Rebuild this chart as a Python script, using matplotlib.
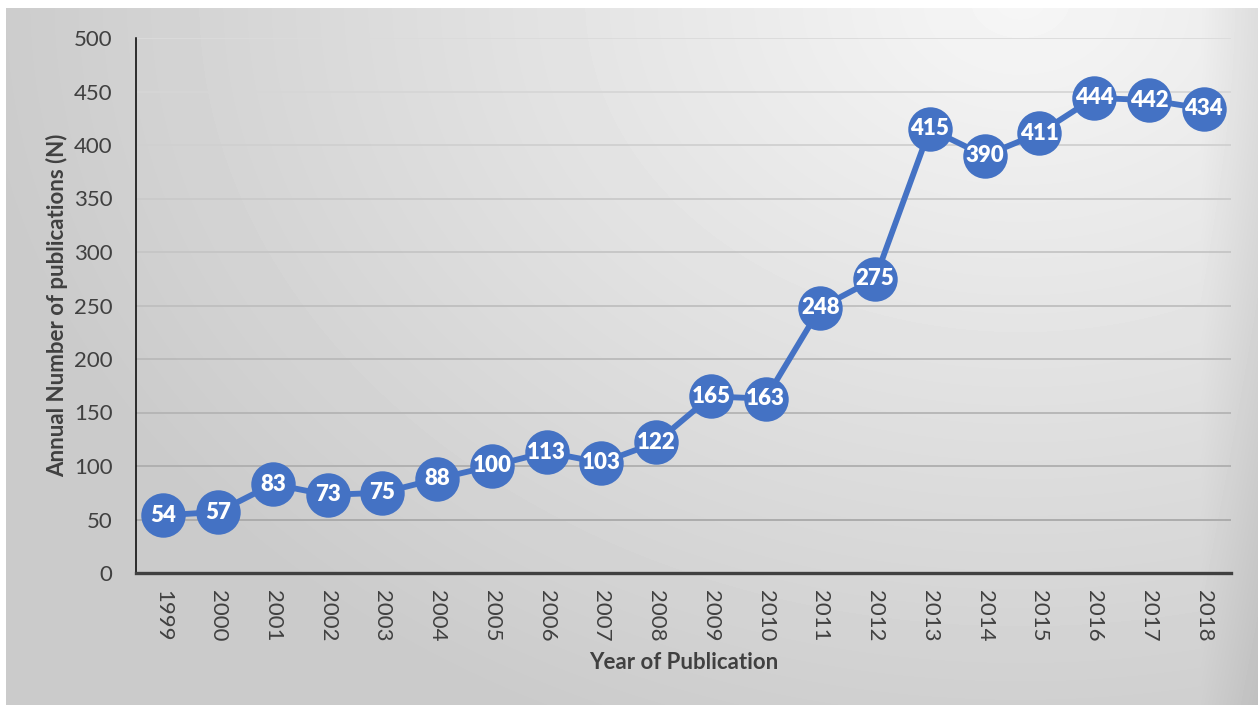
import numpy as np
import matplotlib
matplotlib.use("Agg")
import matplotlib.pyplot as plt

years = [str(y) for y in range(1999, 2019)]
publications = [54, 57, 83, 73, 75, 88, 100, 113, 103, 122,
                165, 163, 248, 275, 415, 390, 411, 444, 442, 434]
y_ticks = list(range(0, 501, 50))

W, H = 1258, 705
plt.rcParams['font.family'] = ['Lato', 'DejaVu Sans']

fig = plt.figure(figsize=(W / 100, H / 100), dpi=100)

# background: soft radial gradient, light at top right
bg_ax = fig.add_axes([0, 0, 1, 1])
bg_ax.set_axis_off()
xx, yy = np.meshgrid(np.arange(W), np.arange(H))
t = np.sqrt(((xx - 1020) / 1050.0) ** 2 + ((yy - 0) / 800.0) ** 2)
t = np.clip(t, 0, 1)
shade = 0.965 - 0.17 * t
edge = np.clip((xx - 1200) / 58.0, 0, 1)
shade = shade - 0.06 * edge
shade[:8, :] = 1.0
shade[:, :6] = 1.0
bg_ax.imshow(shade, cmap='gray', vmin=0, vmax=1, aspect='auto',
             extent=[0, 1, 0, 1], origin='upper', interpolation='bilinear')
bg_ax.set_xlim(0, 1)
bg_ax.set_ylim(0, 1)

ax = fig.add_axes([136 / W, 132 / H, (1231 - 136) / W, (573 - 38) / H])
ax.patch.set_alpha(0)

x = np.arange(len(years))
ax.plot(x, publications, color='#4472C4', lw=4.2, marker='o',
        markersize=32, markeredgewidth=0, zorder=3)
for xi, v in zip(x, publications):
    ax.text(xi, v, str(v), ha='center', va='center', color='white',
            fontsize=16, fontweight='heavy', zorder=4)

ax.set_xlim(-0.5, len(years) - 0.5)
ax.set_ylim(0, 500)
ax.set_xticks(x)
ax.set_xticklabels(years, rotation=270)
ax.set_yticks(y_ticks)
ax.tick_params(axis='both', length=0, labelsize=16, labelcolor='#404040')
ax.tick_params(axis='y', pad=17)
ax.tick_params(axis='x', pad=12)

ax.yaxis.grid(True, lw=1.3)
ax.set_axisbelow(True)
grid_lines = ax.get_ygridlines()
for i, gl in enumerate(grid_lines):
    frac = i / (len(grid_lines) - 1)
    c = 0.64 + 0.22 * frac
    gl.set_color((c, c, c))

for side in ['top', 'right']:
    ax.spines[side].set_visible(False)
ax.spines['bottom'].set_color('#404040')
ax.spines['bottom'].set_linewidth(2.4)
ax.spines['left'].set_color('#000000')
ax.spines['left'].set_linewidth(1.1)

ax.set_xlabel('Year of Publication', fontsize=16, fontweight='bold',
              color='#404040', labelpad=8)
ax.set_ylabel('Annual Number of publications (N)', fontsize=16,
              fontweight='bold', color='#404040', labelpad=4)

fig.savefig('out.png', dpi=100)
